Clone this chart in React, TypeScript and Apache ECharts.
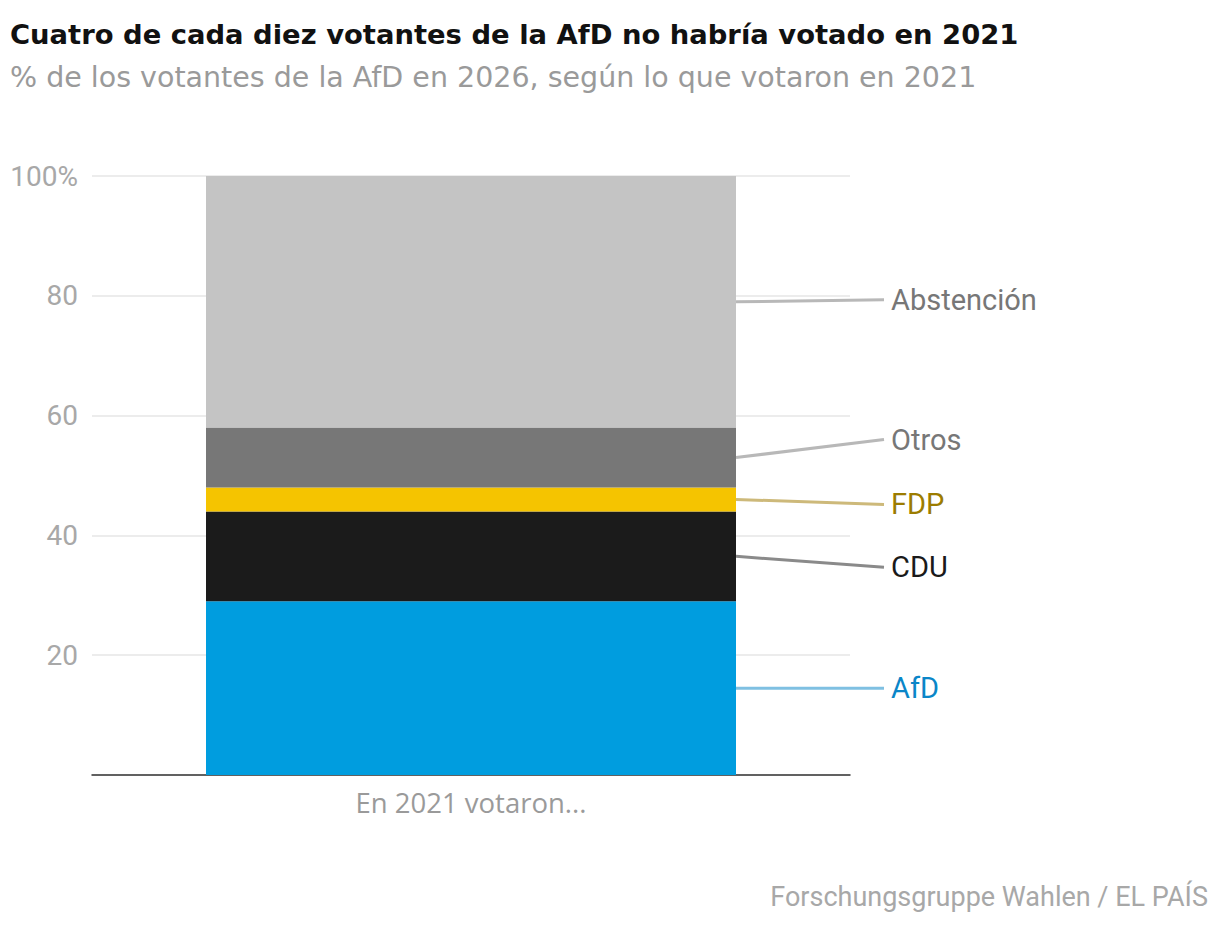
import React, { useEffect, useRef } from 'react';
import * as echarts from 'echarts';

const categories = ['En 2021 votaron...'];
const seriesNames = ['AfD', 'CDU', 'FDP', 'Otros', 'Abstención'];
const afd = [29];
const cdu = [15];
const fdp = [4];
const otros = [10];
const abstencion = [42];
const yTicks = [0, 20, 40, 60, 80, 100];

const titleText = 'Cuatro de cada diez votantes de la AfD no habría votado en 2021';
const subtitleText = '% de los votantes de la AfD en 2026, según lo que votaron en 2021';
const sourceText = 'Forschungsgruppe Wahlen / EL PAÍS';

const barColors = ['#009ddf', '#1b1b1b', '#f5c400', '#777777', '#c4c4c4'];
const labelColors = ['#0a86c8', '#1a1a1a', '#9c7c00', '#777777', '#777777'];
const lineColors = ['#7fc0e2', '#8a8a8a', '#cdb97a', '#b8b8b8', '#b8b8b8'];
const labelNudge = [0, 11, 5, -18, -2];

const BAR_WIDTH = 530;
const ROBOTO = 'Roboto, "Noto Sans", sans-serif';
const OPEN = '"Open Sans", Roboto, sans-serif';
const DEJAVU = '"DejaVu Sans", Roboto, sans-serif';

export default function App() {
  const ref = useRef<HTMLDivElement>(null);
  useEffect(() => {
    document.body.style.margin = '0';
    if (!ref.current) return;
    const chart = echarts.init(ref.current, undefined, { renderer: 'svg' });
    const values = [afd, cdu, fdp, otros, abstencion];
    const option: any = {
      animation: false,
      backgroundColor: '#ffffff',
      grid: { left: 92, right: 370, top: 176, bottom: 151, containLabel: false },
      xAxis: {
        type: 'category',
        data: categories,
        axisLine: { show: true, lineStyle: { color: '#333333', width: 1.5 } },
        axisTick: { show: false },
        axisLabel: { color: '#9a9a9a', fontSize: 27.5, fontFamily: OPEN, margin: 13 },
      },
      yAxis: {
        type: 'value',
        min: yTicks[0],
        max: yTicks[yTicks.length - 1],
        interval: yTicks[1] - yTicks[0],
        axisLine: { show: false },
        axisTick: { show: false },
        splitLine: { show: true, lineStyle: { color: '#e6e6e6', width: 1.5 } },
        axisLabel: {
          color: '#a8a8a8',
          fontSize: 28,
          fontFamily: ROBOTO,
          margin: 14,
          formatter: (v: number) => (v === 0 ? '' : v === 100 ? '100%' : String(v)),
        },
      },
      series: seriesNames.map((name, i) => ({
        name,
        type: 'bar',
        stack: 'total',
        barWidth: BAR_WIDTH,
        data: values[i],
        itemStyle: { color: barColors[i] },
      })),
    };
    chart.setOption(option);

    const graphics: any[] = [
      {
        type: 'text', x: 10, y: 34,
        style: { text: titleText, fontSize: 27.4, fontWeight: 'bold', fontFamily: DEJAVU, fill: '#111111', verticalAlign: 'middle' },
      },
      {
        type: 'text', x: 10, y: 77,
        style: { text: subtitleText, fontSize: 28.5, fontFamily: DEJAVU, fill: '#9a9a9a', verticalAlign: 'middle' },
      },
      {
        type: 'text', x: 1208, y: 897,
        style: { text: sourceText, fontSize: 27, fontFamily: ROBOTO, fill: '#a8a8a8', align: 'right', verticalAlign: 'middle' },
      },
    ];
    let cum = 0;
    seriesNames.forEach((name, i) => {
      const v = values[i][0];
      const mid = cum + v / 2;
      cum += v;
      const p = chart.convertToPixel({ gridIndex: 0 }, [0, mid]) as number[];
      const x0 = p[0] + BAR_WIDTH / 2;
      const y0 = p[1];
      const y1 = y0 + labelNudge[i];
      graphics.push({
        type: 'line',
        shape: { x1: x0, y1: y0, x2: x0 + 148, y2: y1 },
        style: { stroke: lineColors[i], lineWidth: 3 },
      });
      graphics.push({
        type: 'text', x: x0 + 155, y: y1,
        style: { text: name, fontSize: 29, fontFamily: ROBOTO, fill: labelColors[i], verticalAlign: 'middle' },
      });
    });
    chart.setOption({ graphic: graphics });
    return () => chart.dispose();
  }, []);
  return <div ref={ref} style={{ width: 1220, height: 926 }} />;
}
